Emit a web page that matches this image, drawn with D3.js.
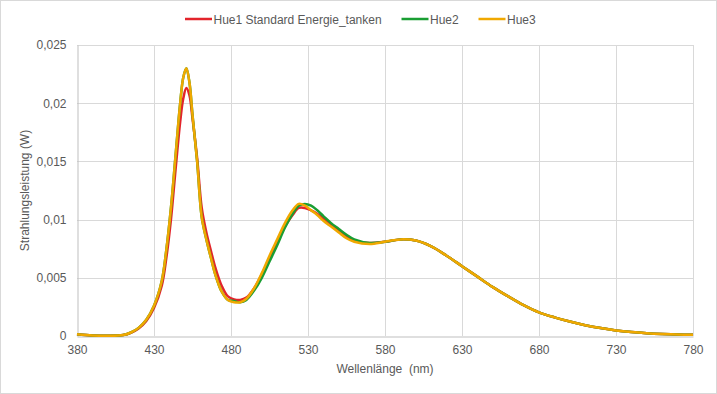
<!DOCTYPE html>
<html>
<head>
<meta charset="utf-8">
<script src="https://cdn.jsdelivr.net/npm/d3@7"></script>
<style>
  body { margin: 0; background: #fff; }
  text { font-family: "Liberation Sans", Arial, sans-serif; fill: #595959; }
</style>
</head>
<body>
<div id="chart"></div>
<script>
// wavelengths (nm) shared by all three series
const wavelengths = [380,390,400,410,415,420,425,430,435,438,441,444,447,449,451,453,455,458,461,464,467,470,474,478,482,486,490,495,500,505,510,515,520,524,528,532,536,540,545,550,555,560,570,580,590,600,610,620,630,640,650,660,670,680,690,700,710,720,730,740,750,760,770,780];

const hue1 = [0.00015,0.00005,0.00002,0.00008,0.00028,0.00065,0.0013,0.0024,0.0043,0.0067,0.0100,0.0143,0.0184,0.0204,0.0213,0.0207,0.0187,0.0153,0.0110,0.0089,0.0073,0.0058,0.0043,0.0034,0.00315,0.0031,0.0033,0.0041,0.0053,0.0067,0.0081,0.0094,0.0104,0.0110,0.0110,0.0108,0.0105,0.0101,0.0096,0.0091,0.0086,0.0082,0.0080,0.0081,0.0083,0.0082,0.0077,0.0069,0.0060,0.0051,0.0042,0.0034,0.00265,0.00203,0.0016,0.00124,0.00093,0.00068,0.00048,0.00034,0.00024,0.00017,0.00012,0.0001];

const hue2 = [0.00015,0.00005,0.00002,0.00008,0.0003,0.0007,0.0014,0.0026,0.0047,0.0074,0.0110,0.0155,0.0200,0.0222,0.0230,0.0218,0.0190,0.0150,0.0102,0.0083,0.0067,0.0052,0.0038,0.0031,0.0030,0.0029,0.0031,0.0039,0.0050,0.0064,0.0078,0.0093,0.0105,0.0112,0.01135,0.0112,0.0108,0.0103,0.0097,0.0092,0.0087,0.0083,0.0080,0.0081,0.0083,0.0082,0.0077,0.0069,0.0060,0.0051,0.0042,0.0034,0.00265,0.00203,0.0016,0.00124,0.00093,0.00068,0.00048,0.00034,0.00024,0.00017,0.00012,0.0001];

const hue3 = [0.00015,0.00005,0.00002,0.00008,0.0003,0.0007,0.0014,0.0026,0.0047,0.0074,0.0110,0.0155,0.0200,0.0222,0.0230,0.0218,0.0190,0.0150,0.0102,0.0083,0.0067,0.0052,0.0038,0.0031,0.0029,0.0029,0.0032,0.0041,0.0054,0.0069,0.0083,0.0097,0.0108,0.01135,0.0112,0.0108,0.0104,0.0099,0.0094,0.0089,0.0084,0.0081,0.0079,0.0081,0.0083,0.0082,0.0077,0.0069,0.0060,0.0051,0.0042,0.0034,0.00265,0.00203,0.0016,0.00124,0.00093,0.00068,0.00048,0.00034,0.00024,0.00017,0.00012,0.0001];

const series_names = ['Hue1 Standard Energie_tanken', 'Hue2', 'Hue3'];
const series_colors = ['#e3242b', '#1a9e33', '#f0a800'];
const x_ticks = [380,430,480,530,580,630,680,730,780];
const y_ticks = [0,0.005,0.01,0.015,0.02,0.025];

const width = 717, height = 394;
const margin = {top: 45, right: 24, bottom: 58, left: 77};

const svg = d3.select('#chart').append('svg')
  .attr('width', width).attr('height', height);

// outer chart border
svg.append('rect')
  .attr('x', 0.5).attr('y', 0.5)
  .attr('width', width - 1).attr('height', height - 1)
  .attr('fill', '#fff').attr('stroke', '#d9d9d9');

const x = d3.scaleLinear().domain([380, 780]).range([margin.left, width - margin.right]);
const y = d3.scaleLinear().domain([0, 0.025]).range([height - margin.bottom, margin.top]);

const de = d3.formatLocale({decimal: ',', thousands: '.', grouping: [3], currency: ['', '€']});
const yfmt = de.format('.3~f');

// gridlines
const grid = svg.append('g').attr('stroke', '#d9d9d9').attr('stroke-width', 1);
grid.selectAll('line.h').data(y_ticks.slice(1)).join('line')
  .attr('x1', margin.left).attr('x2', width - margin.right)
  .attr('y1', d => Math.round(y(d)) + 0.5).attr('y2', d => Math.round(y(d)) + 0.5);
grid.selectAll('line.v').data(x_ticks.slice(1)).join('line')
  .attr('y1', margin.top).attr('y2', height - margin.bottom)
  .attr('x1', d => Math.round(x(d)) + 0.5).attr('x2', d => Math.round(x(d)) + 0.5);

// axes
const xAxis = svg.append('g')
  .attr('transform', `translate(0,${Math.round(y(0)) + 0.5})`)
  .call(d3.axisBottom(x).tickValues(x_ticks).tickSize(0).tickPadding(9));
const yAxis = svg.append('g')
  .attr('transform', `translate(${Math.round(x(380)) + 0.5},0)`)
  .call(d3.axisLeft(y).tickValues(y_ticks).tickFormat(yfmt).tickSize(0).tickPadding(11));
[xAxis, yAxis].forEach(a => {
  a.select('.domain').attr('stroke', '#bfbfbf');
  a.selectAll('text').attr('font-size', 12).attr('fill', '#595959')
    .style('font-family', '"Liberation Sans", Arial, sans-serif');
});

// lines
const line = d3.line()
  .x((d, i) => x(wavelengths[i]))
  .y(d => y(d))
  .curve(d3.curveCatmullRom.alpha(0.5));

[hue1, hue2, hue3].forEach((vals, k) => {
  svg.append('path')
    .datum(vals)
    .attr('fill', 'none')
    .attr('stroke', series_colors[k])
    .attr('stroke-width', 2.5)
    .attr('stroke-linejoin', 'round')
    .attr('d', line);
});

// axis titles
svg.append('text')
  .attr('x', x(580)).attr('y', 373)
  .attr('text-anchor', 'middle').attr('font-size', 12)
  .style('white-space', 'pre')
  .text('Wellenlänge  (nm)');

svg.append('text')
  .attr('transform', `translate(29,${(y(0) + y(0.025)) / 2}) rotate(-90)`)
  .attr('text-anchor', 'middle').attr('font-size', 12)
  .text('Strahlungsleistung (W)');

// legend
const legend_x = [185, 401.5, 478.5];
const legend = svg.append('g');
series_names.forEach((name, k) => {
  const g = legend.append('g').attr('transform', `translate(${legend_x[k]},19)`);
  g.append('line').attr('x1', 0).attr('x2', 27)
    .attr('stroke', series_colors[k]).attr('stroke-width', 2.5);
  g.append('text').attr('x', 28.5).attr('y', 4.5)
    .attr('font-size', 12).text(name);
});
</script>
</body>
</html>
